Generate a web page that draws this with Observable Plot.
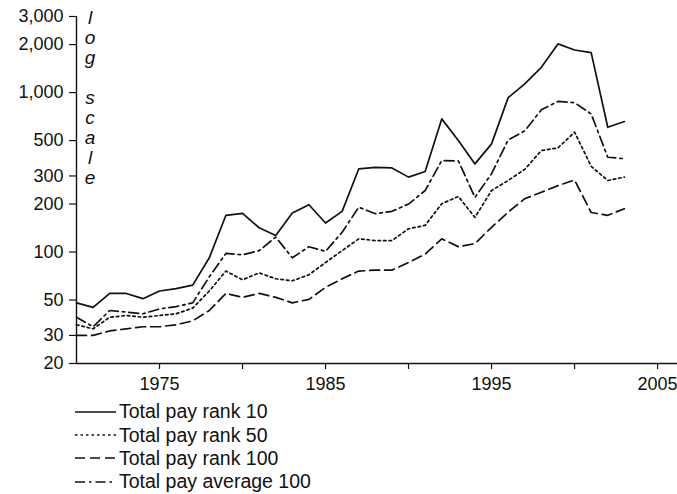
<!DOCTYPE html>
<html>
<head>
<meta charset="utf-8">
<script src="https://cdn.jsdelivr.net/npm/d3@7"></script>
<script src="https://cdn.jsdelivr.net/npm/@observablehq/plot@0.6"></script>
<style>
  body { margin: 0; background: #fff; }
  #chart { width: 677px; height: 494px; position: relative; background: #fff;
           font-family: "Liberation Sans", Arial, Helvetica, sans-serif; color: #111; }
  #chart > svg { position: absolute; left: 0; top: 0; }
  .legend { position: absolute; left: 75px; top: 400px; }
  .row { height: 23.4px; display: flex; align-items: center; font-size: 19.5px; white-space: nowrap; }
  .row svg { width: 41px; height: 10px; margin-right: 3px; flex: none; }
</style>
</head>
<body>
<div id="chart"></div>
<script>
// ---- data ----
const years = [1970,1971,1972,1973,1974,1975,1976,1977,1978,1979,1980,1981,1982,1983,1984,1985,1986,
               1987,1988,1989,1990,1991,1992,1993,1994,1995,1996,1997,1998,1999,2000,2001,2002,2003];
const rank10 = [48,45,55,55,51,57,59,62,92,170,175,142,127,176,198,152,180,
                332,340,337,295,320,684,500,357,477,930,1134,1440,2020,1850,1780,606,658];
const rank50 = [35,33,39,40,39,40,41,44.5,57,76,67,74,68,66,72,86,102,
                121,118,118,140,147,201,223,165,243,281,330,433,450,565,345,281,295];
const rank100 = [30,30,32,33,34,34,35,37,43,55,52,55,52,48,50.5,60,68,
                 76,77,77,86,97,121,108,113,143,178,216,237,261,283,177,170,187];
const average100 = [39,34,43,42,41,44,45.5,48,70,98,96,102,124,92,108,101,133,
                    191,174,180,200,243,375,373,220,310,505,575,780,880,865,735,393,385];
const seriesNames = ["Total pay rank 10","Total pay rank 50","Total pay rank 100","Total pay average 100"];
const seriesValues = [rank10, rank50, rank100, average100];
const yTicks = [20,30,50,100,200,300,500,1000,2000,3000];
const xTicks = [1975,1980,1985,1990,1995,2000,2005];
const xLabels = [1975,1985,1995,2005];
const axisNote = "log scale";

// ---- styles ----
const dashes = [null, "2.5,3", "10,5", "10,4,2.5,4"];
const ink = "#111";
const font = '"Liberation Sans", Arial, Helvetica, sans-serif';

const table = seriesNames.map((name, s) =>
  years.map((yr, i) => ({year: yr, value: seriesValues[s][i], series: name})));

const plot = Plot.plot({
  width: 677,
  height: 400,
  marginLeft: 76,
  marginRight: 0,
  marginTop: 16,
  marginBottom: 37,
  style: {fontFamily: font, fontSize: "18px", color: ink, background: "#fff", overflow: "visible"},
  x: {domain: [1970, 2006.2], label: null},
  y: {type: "log", domain: [20, 3000], label: null},
  marks: [
    Plot.ruleY([20], {stroke: ink, strokeWidth: 1.4}),
    Plot.ruleX([1970], {stroke: ink, strokeWidth: 1.4}),
    Plot.axisX({ticks: xTicks, tickFormat: d => xLabels.includes(d) ? String(d) : "",
                tickSize: 6, tickPadding: 8, stroke: ink, fill: ink, strokeWidth: 1.2}),
    Plot.axisY({ticks: yTicks, tickFormat: d3.format(","), tickSize: 7, tickPadding: 6,
                stroke: ink, fill: ink, strokeWidth: 1.2}),
    ...table.map((rows, s) => Plot.line(rows, {
      x: "year", y: "value", stroke: ink, strokeWidth: 1.7,
      strokeDasharray: dashes[s] || undefined, strokeLinejoin: "round"
    }))
  ]
});

const chart = document.getElementById("chart");
chart.appendChild(plot);

// vertical italic "log scale" note beside the y axis
const svg = d3.select(plot);
const t = svg.append("text")
  .attr("font-style", "italic").attr("font-size", 19).attr("fill", ink)
  .attr("text-anchor", "middle").attr("font-family", font);
[...axisNote].forEach((ch, i) => {
  t.append("tspan").attr("x", 90).attr("y", 24 + i * 20).text(ch === " " ? "\u00a0" : ch);
});

// legend
const legend = document.createElement("div");
legend.className = "legend";
seriesNames.forEach((name, s) => {
  const row = document.createElement("div");
  row.className = "row";
  const dash = dashes[s] ? ` stroke-dasharray="${dashes[s]}"` : "";
  row.innerHTML = `<svg viewBox="0 0 41 10"><line x1="0" y1="5" x2="41" y2="5" stroke="${ink}" stroke-width="1.6"${dash}/></svg><span>${name}</span>`;
  legend.appendChild(row);
});
chart.appendChild(legend);
</script>
</body>
</html>
